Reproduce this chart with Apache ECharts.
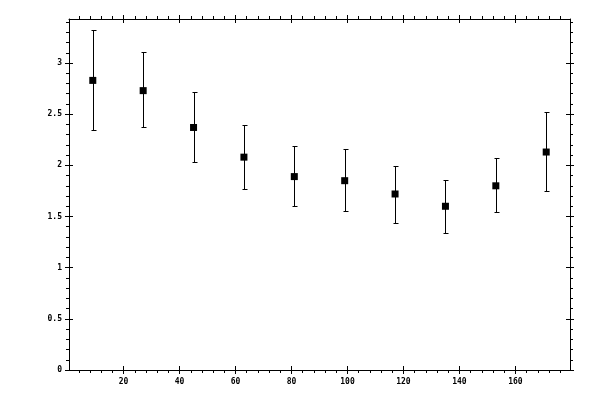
<!DOCTYPE html>
<html>
<head>
<meta charset="utf-8">
<script src="https://cdn.jsdelivr.net/npm/echarts@6/dist/echarts.min.js"></script>
<style>
    html, body { margin: 0; background: #ffffff; }
    #chart { width: 600px; height: 400px; }
</style>
</head>
<body>
<div id="chart"></div>
<script>
const xValues = [9, 27, 45, 63, 81, 99, 117, 135, 153, 171];
const yValues = [2.83, 2.73, 2.37, 2.08, 1.89, 1.85, 1.72, 1.60, 1.80, 2.13];
const yLow = [2.35, 2.37, 2.03, 1.77, 1.60, 1.55, 1.44, 1.34, 1.54, 1.75];
const yHigh = [3.32, 3.11, 2.72, 2.39, 2.19, 2.16, 1.99, 1.86, 2.07, 2.52];

const xTicks = [20, 40, 60, 80, 100, 120, 140, 160];
const yTicks = [0, 0.5, 1, 1.5, 2, 2.5, 3];

const X_MIN = 0.5;
const X_MAX = 179.5;
const Y_MIN = 0;
const Y_MAX = 3.43;

// minor ticks every 4 on x, every 0.1 on y (skipping the major ones)
const xMinorTicks = [];
for (let v = 4; v < X_MAX; v += 4) {
    if (v % 20 !== 0) xMinorTicks.push(v);
}
const yMinorTicks = [];
for (let i = 1; i / 10 < Y_MAX; i++) {
    if (i % 5 !== 0) yMinorTicks.push(i / 10);
}

const FONT = "DejaVu Sans Mono";

function makeAxis(type, position, ticks, opts) {
    const isX = type === "x";
    return {
        type: "value",
        position: position,
        min: isX ? X_MIN : Y_MIN,
        max: isX ? X_MAX : Y_MAX,
        axisLine: {
            show: !!opts.line,
            onZero: false,
            lineStyle: { color: "#000000", width: 1 }
        },
        axisTick: {
            show: true,
            inside: !!opts.inside,
            length: opts.length,
            customValues: ticks,
            lineStyle: { color: "#000000", width: 1 }
        },
        axisLabel: {
            show: !!opts.label,
            customValues: ticks,
            margin: isX ? 8 : 7,
            color: "#000000",
            fontFamily: FONT,
            fontWeight: "bold",
            fontSize: 8
        },
        splitLine: { show: false }
    };
}

const chart = echarts.init(document.getElementById("chart"));

chart.setOption({
    backgroundColor: "#ffffff",
    animation: false,
    grid: {
        left: 69,
        right: 30,
        top: 19,
        bottom: 30
    },
    xAxis: [
        makeAxis("x", "bottom", xTicks, { line: true, length: 4, label: true }),
        makeAxis("x", "bottom", xTicks, { inside: true, length: 4 }),
        makeAxis("x", "bottom", xMinorTicks, { length: 3 }),
        makeAxis("x", "top", xTicks, { line: true, length: 4 }),
        makeAxis("x", "top", xTicks, { inside: true, length: 4 }),
        makeAxis("x", "top", xMinorTicks, { length: 3 })
    ],
    yAxis: [
        makeAxis("y", "left", yTicks, { line: true, length: 4, label: true }),
        makeAxis("y", "left", yTicks, { inside: true, length: 4 }),
        makeAxis("y", "left", yMinorTicks, { length: 3 }),
        makeAxis("y", "right", yTicks, { line: true, length: 4 }),
        makeAxis("y", "right", yTicks, { inside: true, length: 4 }),
        makeAxis("y", "right", yMinorTicks, { length: 3 })
    ],
    series: [
        {
            name: "error",
            type: "custom",
            xAxisIndex: 0,
            yAxisIndex: 0,
            data: xValues.map((x, i) => [x, yLow[i], yHigh[i]]),
            renderItem: (params, api) => {
                const lo = api.coord([api.value(0), api.value(1)]);
                const hi = api.coord([api.value(0), api.value(2)]);
                const x = Math.round(lo[0]) + 0.5;
                const y1 = Math.round(lo[1]) + 0.5;
                const y2 = Math.round(hi[1]) + 0.5;
                const style = { stroke: "#000000", lineWidth: 1 };
                return {
                    type: "group",
                    children: [
                        { type: "line", shape: { x1: x, y1: y1, x2: x, y2: y2 }, style: style },
                        { type: "line", shape: { x1: x - 2, y1: y1, x2: x + 3, y2: y1 }, style: style },
                        { type: "line", shape: { x1: x - 2, y1: y2, x2: x + 3, y2: y2 }, style: style }
                    ]
                };
            },
            z: 2
        },
        {
            name: "value",
            type: "scatter",
            xAxisIndex: 0,
            yAxisIndex: 0,
            symbol: "rect",
            symbolSize: 7,
            itemStyle: { color: "#000000", opacity: 1 },
            data: xValues.map((x, i) => [x, yValues[i]]),
            z: 3
        }
    ]
});
</script>
</body>
</html>
